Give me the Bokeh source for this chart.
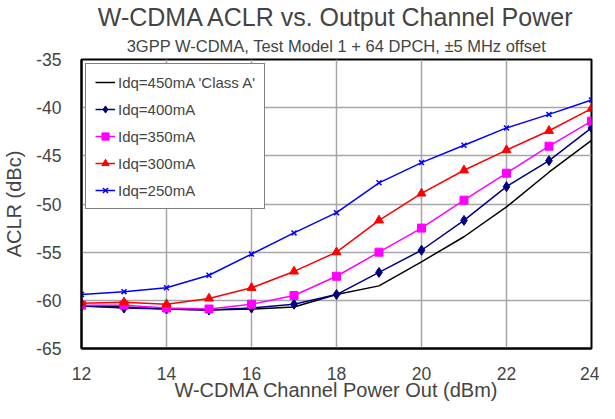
from bokeh.plotting import figure
from bokeh.models import Title, Legend, LegendItem, FixedTicker, PrintfTickFormatter
from bokeh.embed import file_html
from bokeh.resources import INLINE

power = [12, 13, 14, 15, 16, 17, 18, 19, 20, 21, 22, 23, 24]
idq450 = [-60.6, -60.7, -60.9, -61.0, -60.9, -60.7, -59.4, -58.5, -56.0, -53.4, -50.3, -46.7, -43.4]
idq400 = [-60.6, -60.8, -60.9, -61.0, -60.8, -60.4, -59.4, -57.1, -54.8, -51.7, -48.2, -45.5, -42.1]
idq350 = [-60.5, -60.5, -60.8, -60.9, -60.4, -59.5, -57.5, -55.0, -52.5, -49.6, -46.8, -44.0, -41.4]
idq300 = [-60.3, -60.2, -60.4, -59.8, -58.7, -57.0, -55.0, -51.7, -48.9, -46.5, -44.4, -42.4, -40.1]
idq250 = [-59.4, -59.1, -58.7, -57.4, -55.2, -53.0, -50.9, -47.8, -45.7, -43.9, -42.1, -40.7, -39.2]

labels = ["Idq=450mA 'Class A'", "Idq=400mA", "Idq=350mA", "Idq=300mA", "Idq=250mA"]
x_ticks = [12, 14, 16, 18, 20, 22, 24]
y_ticks = [-65, -60, -55, -50, -45, -40, -35]

FONT = "Liberation Sans"

p = figure(width=599, height=403, output_backend="svg", toolbar_location=None,
           x_range=(12, 24), y_range=(-65, -35),
           min_border_left=10, min_border_right=8, min_border_bottom=0, min_border_top=0)

p.add_layout(Title(text="3GPP W-CDMA, Test Model 1 + 64 DPCH, \u00b15 MHz offset", align="center",
                   text_font=FONT, text_font_size="16.5px", text_font_style="normal",
                   standoff=9), "above")
p.add_layout(Title(text="W-CDMA ACLR vs. Output Channel Power", align="center",
                   text_font=FONT, text_font_size="25px", text_font_style="normal",
                   standoff=0), "above")

p.outline_line_color = "black"
p.outline_line_width = 2

for ax in (p.xaxis, p.yaxis):
    ax.axis_line_color = "black"
    ax.axis_line_width = 2
    ax.major_tick_line_color = None
    ax.minor_tick_line_color = None
    ax.major_label_text_font = FONT
    ax.major_label_text_font_size = "17.5px"
    ax.axis_label_text_font = FONT
    ax.axis_label_text_font_size = "20px"
    ax.axis_label_text_font_style = "normal"

p.xaxis.ticker = FixedTicker(ticks=x_ticks)
p.yaxis.ticker = FixedTicker(ticks=y_ticks)
p.xaxis.formatter = PrintfTickFormatter(format="%d")
p.yaxis.formatter = PrintfTickFormatter(format="%d")
p.xaxis.axis_label = "W-CDMA Channel Power Out (dBm)"
p.yaxis.axis_label = "ACLR (dBc)"
p.xaxis.major_label_standoff = 12
p.yaxis.major_label_standoff = 14
p.xaxis.axis_label_standoff = -4
p.yaxis.axis_label_standoff = 8
p.xaxis.axis_label_text_line_height = 0.9

p.xgrid.grid_line_color = "#a6a6a6"
p.ygrid.grid_line_color = "#a6a6a6"
p.xgrid.grid_line_width = 1.5
p.ygrid.grid_line_width = 1.5

r450 = p.line(power, idq450, line_color="black", line_width=1.5)

l400 = p.line(power, idq400, line_color="#000080", line_width=1.5)
m400 = p.scatter(power, idq400, marker="diamond", size=10, color="#000080")

l350 = p.line(power, idq350, line_color="#ff00ff", line_width=1.5)
m350 = p.scatter(power, idq350, marker="square", size=8, color="#ff00ff")

l300 = p.line(power, idq300, line_color="#ff0000", line_width=1.5)
m300 = p.scatter(power, idq300, marker="triangle", size=9, color="#ff0000")

l250 = p.line(power, idq250, line_color="#0000ff", line_width=1.5)
m250 = p.scatter(power, idq250, marker="x", size=7, line_color="#0000ff", line_width=1.5)

legend = Legend(items=[
    LegendItem(label=labels[0], renderers=[r450]),
    LegendItem(label=labels[1], renderers=[l400, m400]),
    LegendItem(label=labels[2], renderers=[l350, m350]),
    LegendItem(label=labels[3], renderers=[l300, m300]),
    LegendItem(label=labels[4], renderers=[l250, m250]),
], location="top_left")
legend.label_text_font = FONT
legend.label_text_font_size = "15px"
legend.glyph_width = 20
legend.glyph_height = 18
legend.label_height = 18
legend.label_standoff = 3
legend.spacing = 9
legend.padding = 9
legend.margin = 4
legend.border_line_color = "black"
legend.border_line_width = 1
legend.background_fill_alpha = 1
p.add_layout(legend)

open("out.html", "w").write(file_html(p, INLINE))
